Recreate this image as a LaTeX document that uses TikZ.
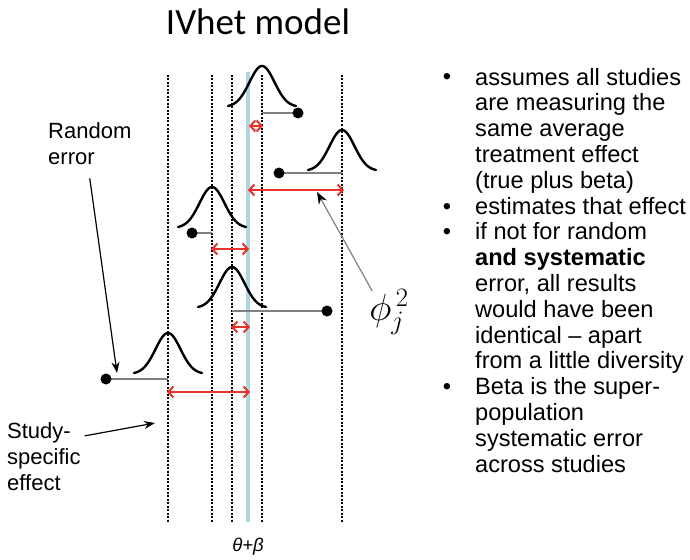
\RequirePackage{fix-cm}
\documentclass[tikz,border=0pt]{standalone}
\usepackage{fontspec}
\setmainfont{Liberation Sans}
\newfontfamily\titlefont{Carlito}
\definecolor{errRed}{RGB}{232,50,42}
\definecolor{meanBlue}{RGB}{170,215,225}
\definecolor{errGrey}{RGB}{128,128,128}
\usetikzlibrary{arrows.meta,positioning}

\tikzset{
  effectline/.style={line width=2.3pt, dash pattern=on 2pt off 1.5pt},
  meanline/.style={meanBlue, line width=3.5pt},
  bellcurve/.style={line width=2.4pt, line cap=round},
  errline/.style={errGrey, line width=1.3pt},
  estdot/.style={circle, fill=black, inner sep=0pt, minimum size=11pt},
  gaparrow/.style={errRed, line width=2pt,
    {Straight Barb[length=5pt,width=11pt]}-{Straight Barb[length=5pt,width=11pt]}},
  labeltext/.style={font=\fontsize{22}{26}\selectfont, align=left, inner sep=0pt},
  bullettext/.style={font=\fontsize{23.6}{25.8}\selectfont, align=left, inner sep=0pt},
  pointer/.style={line width=1.2pt, -{Stealth[length=11pt,width=8pt]}},
  phipointer/.style={errGrey, line width=1.2pt, -{Stealth[length=12pt,width=9pt,color=black]}},
}

\begin{document}
\begin{tikzpicture}[x=1pt, y=-1pt]
  \useasboundingbox (0,0) rectangle (690,559);

  \node[font=\titlefont\fontsize{37}{40}\selectfont, anchor=base] (title) at (258,35) {IVhet model};

  % study-specific effects and the common mean
  \foreach \xe in {168,212,232,262,342}
    \draw[effectline] (\xe,75) -- (\xe,522);
  \draw[meanline] (248,72) -- (248,522);

  % sampling distributions
  \foreach \cx/\py in {262/66, 342/130, 212/187, 232/267, 168/333}
    \draw[bellcurve] plot[domain=-34:34, samples=60, smooth]
      ({\cx+\x}, {\py+41*(1-exp(-((\x/12.5)^2)/2))});

  % observed estimates and random error
  \foreach \n/\xd/\xm/\yd in {1/298/262/113, 2/279/342/173, 3/192/212/233, 4/327/232/311, 5/106/168/379} {
    \coordinate (m\n) at (\xm,\yd);
    \draw[errline] (m\n) -- (\xd,\yd) node[estdot] (e\n) {};
  }

  % systematic error
  \coordinate (g1a) at (249,126);   \coordinate (g1b) at (263,126);
  \coordinate (g2a) at (248,190);   \coordinate (g2b) at (344,190);
  \coordinate (g3a) at (211,249);   \coordinate (g3b) at (249,249);
  \coordinate (g4a) at (231,327);   \coordinate (g4b) at (250,327);
  \coordinate (g5a) at (167,392);   \coordinate (g5b) at (250,392);
  \foreach \n in {1,...,5}
    \draw[gaparrow] (g\n a) -- (g\n b);

  % labels (base = last line)
  \node[labeltext, anchor=base west] (randlbl) at (48,164) {Random\\error};
  \coordinate (randtip) at (117,373);
  \draw[pointer] ([yshift=-14pt]randlbl.south) -- (randtip);

  \node[labeltext, anchor=base west] (studylbl) at (7,490) {Study-\\specific\\effect};
  \coordinate (studytip) at (155,423);
  \draw[pointer] ([xshift=4pt,yshift=-14pt]studylbl.north east) -- (studytip);

  \node[font=\fontsize{38}{38}\selectfont, inner sep=1pt] (philbl) at (389,312) {$\phi_{j}^{\,2}$};
  \coordinate (phitip) at (317,192);
  \draw[phipointer] ([xshift=4pt,yshift=-3pt]philbl.north west) -- (phitip);

  \node[font=\fontsize{18.5}{18}\selectfont\itshape] (meanlbl) at (248,547) {θ+β};

  % bullet list
  \foreach \yb/\name in {85/b1, 214/b2, 239.8/b3, 394.6/b4}
    \node[bullettext, anchor=base] (\name) at (447,\yb) {•};
  \node[bullettext, anchor=base west] (item1) at (475,188.2)
    {assumes all studies\\are measuring the\\same average\\treatment effect\\(true plus beta)};
  \node[bullettext, anchor=base west] (item2) at (475,214) {estimates that effect};
  \node[bullettext, anchor=base west] (item3) at (475,368.8)
    {if not for random\\\textbf{and systematic}\\error, all results\\would have been\\identical – apart\\from a little diversity};
  \node[bullettext, anchor=base west] (item4) at (475,472)
    {Beta is the super-\\population\\systematic error\\across studies};
\end{tikzpicture}
\end{document}
